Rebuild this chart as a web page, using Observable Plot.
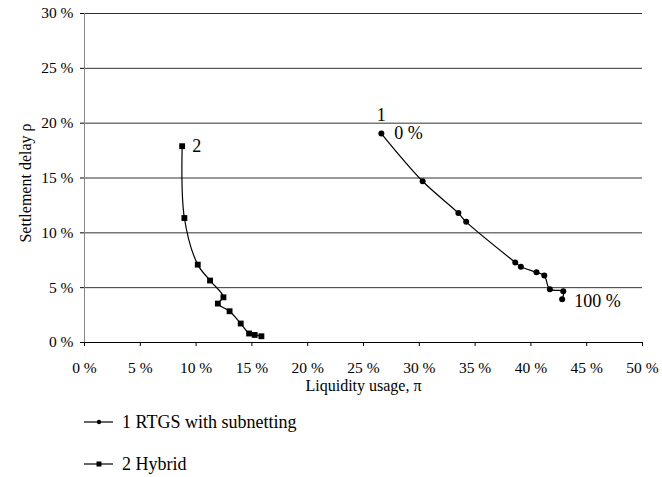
<!DOCTYPE html>
<html>
<head>
<meta charset="utf-8">
<script src="https://cdn.jsdelivr.net/npm/d3@7"></script>
<script src="https://cdn.jsdelivr.net/npm/@observablehq/plot@0.6"></script>
<style>
  html, body { margin: 0; padding: 0; background: #fff; }
  body { width: 662px; height: 477px; overflow: hidden; font-family: "Liberation Serif", "DejaVu Serif", serif; }
  #legend { position: relative; height: 77px; font-size: 18px; }
  .row { position: absolute; left: 84px; display: flex; align-items: center; }
  .row svg { display: block; margin-right: 8px; }
  svg text { font-family: "Liberation Serif", "DejaVu Serif", serif; }
</style>
</head>
<body>
<div id="chart"></div>
<div id="legend"></div>
<script>
// Series 1: RTGS with subnetting (liquidity usage %, settlement delay %)
const rtgsX = [26.6, 30.3, 33.5, 34.2, 38.6, 39.1, 40.5, 41.2, 41.7, 42.9, 42.8];
const rtgsY = [19.05, 14.7, 11.8, 11.0, 7.3, 6.9, 6.4, 6.1, 4.85, 4.67, 3.94];
// Series 2: Hybrid
const hybX = [8.75, 8.95, 10.15, 11.25, 12.45, 11.95, 13.0, 14.0, 14.75, 15.25, 15.85];
const hybY = [17.9, 11.35, 7.1, 5.65, 4.12, 3.55, 2.85, 1.73, 0.82, 0.69, 0.57];

const seriesNames = ["1 RTGS with subnetting", "2 Hybrid"];
const xTicks = [0, 5, 10, 15, 20, 25, 30, 35, 40, 45, 50];
const yTicks = [0, 5, 10, 15, 20, 25, 30];
const xTitle = "Liquidity usage, π";
const yTitle = "Settlement delay ρ";

const s1 = rtgsX.map((x, i) => ({x, y: rtgsY[i]}));
const s2 = hybX.map((x, i) => ({x, y: hybY[i]}));
const fmt = d => d + " %";

const chart = Plot.plot({
  width: 662,
  height: 400,
  marginLeft: 84,
  marginRight: 20,
  marginTop: 13,
  marginBottom: 58,
  style: {fontFamily: "'Liberation Serif', 'DejaVu Serif', serif", fontSize: "15.5px", color: "#000", background: "#fff"},
  x: {domain: [0, 50]},
  y: {domain: [0, 30]},
  marks: [
    Plot.ruleY(yTicks.filter(d => d > 0), {stroke: "#333", strokeWidth: 1}),
    Plot.ruleX([0], {stroke: "#888", strokeWidth: 1}),
    Plot.ruleY([0], {stroke: "#000", strokeWidth: 1}),
    Plot.axisX({ticks: xTicks, tickFormat: fmt, tickSize: 4, tickPadding: 15, label: null, stroke: "#000"}),
    Plot.axisY({ticks: yTicks, tickFormat: fmt, tickSize: 4, tickPadding: 7, label: null, stroke: "#000"}),
    Plot.text([xTitle], {frameAnchor: "bottom", dy: 48, fontSize: 16}),
    Plot.text([yTitle], {frameAnchor: "left", textAnchor: "middle", dx: -59, dy: 5, rotate: -90, fontSize: 16}),
    Plot.line(s1, {x: "x", y: "y", curve: "catmull-rom", stroke: "#000", strokeWidth: 1.2}),
    Plot.dot(s1, {x: "x", y: "y", r: 3, fill: "#000", stroke: "none"}),
    Plot.line(s2, {x: "x", y: "y", curve: "catmull-rom", stroke: "#000", strokeWidth: 1.2}),
    Plot.dot(s2, {x: "x", y: "y", r: 3.3, symbol: "square", fill: "#000", stroke: "none"}),
    Plot.text([s1[0]], {x: "x", y: "y", text: () => "1", dy: -18, fontSize: 18}),
    Plot.text([s1[0]], {x: "x", y: "y", text: () => "0 %", dx: 13, textAnchor: "start", fontSize: 18}),
    Plot.text([s2[0]], {x: "x", y: "y", text: () => "2", dx: 10, textAnchor: "start", fontSize: 18}),
    Plot.text([s1[s1.length - 1]], {x: "x", y: "y", text: () => "100 %", dx: 12, dy: 2, textAnchor: "start", fontSize: 18})
  ]
});
document.getElementById("chart").appendChild(chart);

// Legend
const legend = document.getElementById("legend");
const markers = ["circle", "square"];
const rowTops = [22, 64];
seriesNames.forEach((name, i) => {
  const row = document.createElement("div");
  row.className = "row";
  row.style.top = (rowTops[i] - 11) + "px";
  row.style.height = "22px";
  const svg = d3.create("svg").attr("width", 30).attr("height", 20);
  svg.append("line").attr("x1", 0).attr("x2", 29).attr("y1", 10).attr("y2", 10).attr("stroke", "#000").attr("stroke-width", 1.2);
  if (markers[i] === "circle") svg.append("circle").attr("cx", 15).attr("cy", 10).attr("r", 2.2);
  else svg.append("rect").attr("x", 12.5).attr("y", 7.5).attr("width", 5).attr("height", 5);
  row.appendChild(svg.node());
  const span = document.createElement("span");
  span.textContent = name;
  row.appendChild(span);
  legend.appendChild(row);
});
</script>
</body>
</html>
